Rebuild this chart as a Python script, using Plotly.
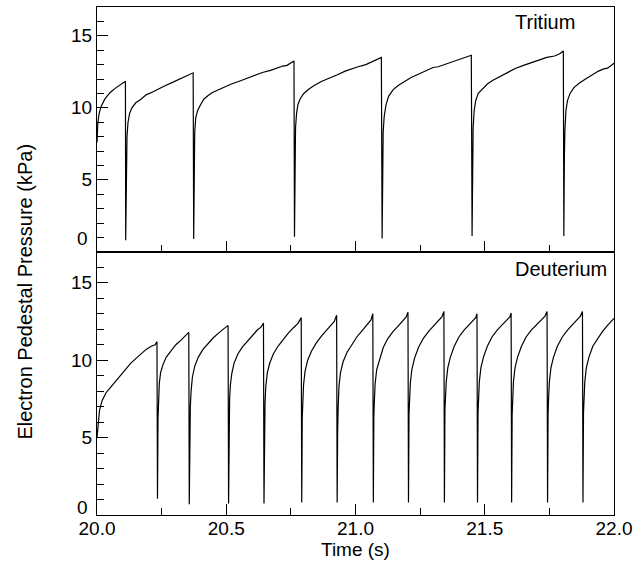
import plotly.graph_objects as go

# Electron pedestal pressure (kPa) vs time (s), sampled along each ELM cycle
tritium_t = [
    20.000, 20.003, 20.008, 20.016, 20.030, 20.050, 20.070, 20.090, 20.105, 20.110,
    20.111, 20.113, 20.116, 20.120, 20.126, 20.135, 20.150, 20.170, 20.190, 20.215,
    20.240, 20.265, 20.290, 20.315, 20.340, 20.360, 20.372,
    20.374, 20.376, 20.378, 20.382, 20.389, 20.400, 20.413, 20.430, 20.445, 20.470,
    20.494, 20.520, 20.558, 20.580, 20.606, 20.640, 20.671, 20.700, 20.719, 20.735,
    20.750, 20.762,
    20.764, 20.766, 20.768, 20.772, 20.777, 20.785, 20.800, 20.820, 20.840, 20.870,
    20.900, 20.930, 20.960, 20.990, 21.010, 21.040, 21.070, 21.100,
    21.103, 21.105, 21.107, 21.111, 21.118, 21.128, 21.145, 21.165, 21.190, 21.215,
    21.245, 21.270, 21.300, 21.320, 21.350, 21.380, 21.410, 21.448,
    21.451, 21.453, 21.455, 21.459, 21.465, 21.475, 21.490, 21.510, 21.530, 21.560,
    21.590, 21.620, 21.650, 21.680, 21.710, 21.740, 21.770, 21.790, 21.804,
    21.806, 21.808, 21.810, 21.814, 21.820, 21.830, 21.845, 21.865, 21.890, 21.915,
    21.940, 21.960, 21.975, 22.000,
]
tritium_p = [
    7.6, 8.9, 9.6, 10.1, 10.6, 11.05, 11.35, 11.6, 11.8, 11.85,
    0.8, 6.3, 8.0, 9.0, 9.6, 10.0, 10.35, 10.6, 10.9, 11.1,
    11.35, 11.55, 11.75, 11.95, 12.15, 12.3, 12.43,
    0.9, 5.7, 8.3, 9.3, 9.8, 10.2, 10.6, 10.85, 11.05, 11.25,
    11.45, 11.65, 11.9, 12.05, 12.2, 12.45, 12.6, 12.8, 12.9, 12.95,
    13.1, 13.25,
    1.05, 5.5, 8.6, 9.6, 10.2, 10.6, 11.0, 11.3, 11.55, 11.85,
    12.05, 12.3, 12.55, 12.75, 12.85, 13.0, 13.25, 13.5,
    0.93, 7.5, 8.3, 9.4, 10.2, 10.8, 11.25, 11.55, 11.85, 12.1,
    12.35, 12.55, 12.8, 12.85, 13.05, 13.25, 13.45, 13.65,
    1.1, 7.5, 8.6, 9.8, 10.5, 11.0, 11.3, 11.65, 11.9, 12.2,
    12.5, 12.75, 12.95, 13.15, 13.35, 13.5, 13.6, 13.75, 13.95,
    1.1, 6.5, 8.4, 9.8, 10.5, 11.0, 11.4, 11.7, 12.0, 12.3,
    12.55, 12.7, 12.75, 13.1,
]

deuterium_t = [
    20.000, 20.004, 20.010, 20.020, 20.035, 20.050, 20.070, 20.090, 20.110, 20.130,
    20.150, 20.170, 20.190, 20.210, 20.225, 20.232,
    20.234, 20.236, 20.238, 20.241, 20.246, 20.255, 20.268, 20.285, 20.305, 20.325,
    20.345, 20.355,
    20.357, 20.359, 20.361, 20.364, 20.369, 20.378, 20.392, 20.410, 20.430, 20.450,
    20.470, 20.490, 20.507,
    20.509, 20.511, 20.513, 20.516, 20.521, 20.530, 20.545, 20.562, 20.580, 20.600,
    20.620, 20.635, 20.644,
    20.646, 20.648, 20.650, 20.653, 20.659, 20.668, 20.682, 20.700, 20.720, 20.740,
    20.760, 20.778, 20.790,
    20.792, 20.794, 20.796, 20.799, 20.805, 20.815, 20.830, 20.848, 20.868, 20.888,
    20.905, 20.918, 20.927,
    20.929, 20.931, 20.933, 20.936, 20.942, 20.952, 20.967, 20.985, 21.005, 21.025,
    21.045, 21.060, 21.067,
    21.069, 21.071, 21.073, 21.076, 21.082, 21.092, 21.107, 21.125, 21.145, 21.165,
    21.182, 21.196, 21.203,
    21.205, 21.207, 21.209, 21.212, 21.218, 21.228, 21.243, 21.262, 21.282, 21.302,
    21.320, 21.334, 21.342,
    21.344, 21.346, 21.348, 21.351, 21.357, 21.367, 21.382, 21.400, 21.420, 21.440,
    21.455, 21.465, 21.470,
    21.472, 21.474, 21.476, 21.479, 21.485, 21.495, 21.510, 21.528, 21.548, 21.568,
    21.585, 21.597, 21.602,
    21.604, 21.606, 21.608, 21.611, 21.617, 21.627, 21.642, 21.660, 21.680, 21.700,
    21.718, 21.733, 21.741,
    21.743, 21.745, 21.747, 21.750, 21.756, 21.766, 21.781, 21.800, 21.820, 21.840,
    21.857, 21.870, 21.878,
    21.880, 21.882, 21.884, 21.887, 21.893, 21.903, 21.918, 21.936, 21.955, 21.975,
    21.990, 22.000,
]
deuterium_p = [
    5.0, 6.0, 6.8, 7.4, 7.9, 8.2, 8.6, 9.0, 9.4, 9.8,
    10.1, 10.4, 10.7, 10.9, 11.0, 11.2,
    1.05, 6.2, 7.6, 8.5, 9.2, 9.7, 10.2, 10.6, 11.0, 11.3,
    11.6, 11.8,
    0.7, 5.6, 7.0, 8.0, 8.9, 9.6, 10.2, 10.7, 11.1, 11.45,
    11.75, 12.0, 12.25,
    0.75, 6.5, 7.5, 8.4, 9.1, 9.8, 10.4, 10.85, 11.2, 11.6,
    11.95, 12.15, 12.4,
    0.75, 6.0, 7.2, 8.3, 9.2, 9.8, 10.4, 10.9, 11.35, 11.75,
    12.1, 12.4, 12.75,
    0.8, 6.3, 7.4, 8.4, 9.3, 10.0, 10.6, 11.1, 11.55, 11.95,
    12.25, 12.5, 12.9,
    0.8, 5.4, 7.0, 8.3, 9.2, 9.9, 10.5, 11.0, 11.5, 11.9,
    12.3, 12.6, 13.0,
    0.8, 6.4, 7.4, 8.5, 9.4, 10.0, 10.8, 11.4, 11.85, 12.2,
    12.5, 12.8, 13.1,
    0.8, 6.5, 7.4, 8.5, 9.4, 10.1, 10.8, 11.4, 11.85, 12.2,
    12.5, 12.8, 13.15,
    0.8, 6.8, 7.6, 8.6, 9.5, 10.2, 10.9, 11.5, 11.95, 12.3,
    12.55, 12.75, 13.0,
    0.8, 6.6, 7.6, 8.6, 9.5, 10.2, 10.9, 11.5, 11.95, 12.3,
    12.6, 12.8, 13.05,
    0.8, 6.5, 7.6, 8.6, 9.5, 10.2, 10.9, 11.5, 11.95, 12.3,
    12.6, 12.85, 13.15,
    0.8, 6.5, 7.6, 8.6, 9.5, 10.2, 10.9, 11.5, 11.95, 12.3,
    12.6, 12.85, 13.15,
    0.8, 6.6, 7.6, 8.6, 9.5, 10.2, 10.9, 11.4, 11.85, 12.25,
    12.5, 12.7,
]

# Axis ticks
x_major = [20.0, 20.5, 21.0, 21.5, 22.0]
x_major_text = ["20.0", "20.5", "21.0", "21.5", "22.0"]
x_minor = [20.25, 20.75, 21.25, 21.75]
y_major = [0, 5, 10, 15]
y_major_text = ["", "5", "10", "15"]
y_minor = [1, 2, 3, 4, 6, 7, 8, 9, 11, 12, 13, 14, 16]
y_zero_label = "0"

panel_names = ["Tritium", "Deuterium"]
x_title = "Time (s)"
y_title = "Electron Pedestal Pressure (kPa)"

FONT = "Liberation Sans, Arial, Helvetica, sans-serif"
INK = "black"
SPLIT = 0.518

fig = go.Figure()
fig.add_trace(go.Scatter(x=tritium_t, y=tritium_p, mode="lines",
                         line=dict(color=INK, width=1.2), xaxis="x2", yaxis="y2",
                         showlegend=False, hoverinfo="skip"))
fig.add_trace(go.Scatter(x=deuterium_t, y=deuterium_p, mode="lines",
                         line=dict(color=INK, width=1.2), xaxis="x", yaxis="y",
                         showlegend=False, hoverinfo="skip"))

xcommon = dict(range=[20.0, 22.0], tickmode="array", tickvals=x_major, ticktext=x_major_text,
               ticks="inside", ticklen=11, tickwidth=1, tickcolor=INK,
               minor=dict(tickmode="array", tickvals=x_minor, ticks="inside", ticklen=7,
                          tickwidth=1, tickcolor=INK),
               showline=True, linecolor=INK, linewidth=1.3, mirror=True,
               showgrid=False, zeroline=False, ticklabelstandoff=-4,
               tickfont=dict(family=FONT, size=19, color=INK))
ycommon = dict(range=[0, 17], tickmode="array", tickvals=y_major, ticktext=y_major_text,
               ticks="inside", ticklen=11, tickwidth=1, tickcolor=INK,
               minor=dict(tickmode="array", tickvals=y_minor, ticks="inside", ticklen=7,
                          tickwidth=1, tickcolor=INK),
               showline=True, linecolor=INK, linewidth=1.3, mirror=True,
               showgrid=False, zeroline=False,
               tickfont=dict(family=FONT, size=19, color=INK))

fig.update_layout(
    width=644, height=567,
    margin=dict(l=97, r=30, t=7, b=52),
    paper_bgcolor="white", plot_bgcolor="white",
    xaxis=dict(xcommon, domain=[0, 1], anchor="y"),
    yaxis=dict(ycommon, domain=[0, SPLIT], anchor="x"),
    xaxis2=dict(xcommon, domain=[0, 1], anchor="y2", matches="x", showticklabels=False),
    yaxis2=dict(ycommon, domain=[SPLIT, 1], anchor="x2"),
)

annotations = [
    dict(text=panel_names[0], xref="x2 domain", yref="y2 domain", x=0.928, y=0.938,
         xanchor="right", yanchor="middle", showarrow=False,
         font=dict(family=FONT, size=20, color=INK)),
    dict(text=panel_names[1], xref="x domain", yref="y domain", x=0.990, y=0.935,
         xanchor="right", yanchor="middle", showarrow=False,
         font=dict(family=FONT, size=20, color=INK)),
    dict(text=y_zero_label, xref="paper", yref="y2", x=0, y=0, xshift=-7, yshift=1,
         xanchor="right", yanchor="bottom", showarrow=False,
         font=dict(family=FONT, size=19, color=INK)),
    dict(text=y_zero_label, xref="paper", yref="y", x=0, y=0, xshift=-7, yshift=-5,
         xanchor="right", yanchor="bottom", showarrow=False,
         font=dict(family=FONT, size=19, color=INK)),
    dict(text=x_title, xref="paper", yref="paper", x=0.5, y=-0.068,
         xanchor="center", yanchor="middle", showarrow=False,
         font=dict(family=FONT, size=19, color=INK)),
    dict(text=y_title, xref="paper", yref="paper", x=-0.139, y=0.44, textangle=-90,
         xanchor="center", yanchor="middle", showarrow=False,
         font=dict(family=FONT, size=20, color=INK)),
]
fig.update_layout(annotations=annotations)

fig.write_html("out.html")
